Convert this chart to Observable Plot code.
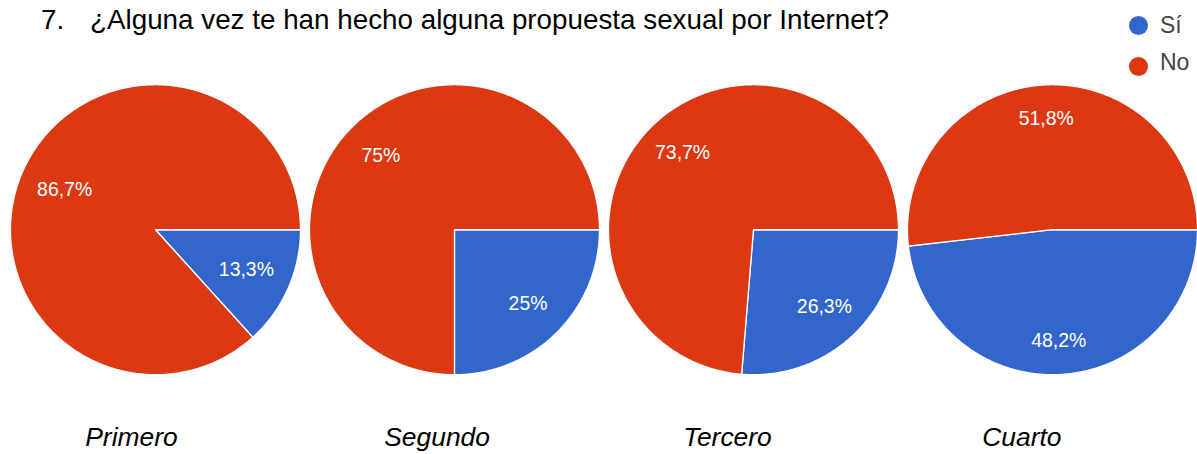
<!DOCTYPE html>
<html>
<head>
<meta charset="utf-8">
<script src="https://cdn.jsdelivr.net/npm/d3@7"></script>
<script src="https://cdn.jsdelivr.net/npm/@observablehq/plot@0.6"></script>
<style>
html, body { margin: 0; padding: 0; background: #fff; overflow: hidden; width: 1197px; height: 454px; }
#wrap { position: relative; width: 1197px; height: 454px; overflow: hidden; font-family: "Liberation Sans", Arial, sans-serif; }
#chart { position: absolute; left: 0; top: 0; }
.t { position: absolute; font-size: 27.8px; line-height: 34px; color: #000; white-space: pre; top: 3px; }
.lg-dot { position: absolute; width: 19px; height: 19px; border-radius: 50%; }
.lg-txt { position: absolute; font-size: 23px; line-height: 26px; color: #444; white-space: pre; }
</style>
</head>
<body>
<div id="wrap">
  <div id="chart"></div>
  <span class="t" style="left:41px">7.</span>
  <span class="t" id="question" style="left:90px"></span>
  <div id="legend"></div>
</div>
<script>
// ---- data ----
const question = "¿Alguna vez te han hecho alguna propuesta sexual por Internet?";
const grades = ["Primero", "Segundo", "Tercero", "Cuarto"];
const answers = ["Sí", "No"];
const siPct = [13.3, 25, 26.3, 48.2];
const noPct = [86.7, 75, 73.7, 51.8];
const colors = ["#3366cc", "#dc3912"];

document.getElementById("question").textContent = question;

// legend
const legend = document.getElementById("legend");
answers.forEach((a, i) => {
  const dot = document.createElement("div");
  dot.className = "lg-dot";
  dot.style.left = "1129px";
  dot.style.top = (16 + i * 41) + "px";
  dot.style.background = colors[i];
  legend.appendChild(dot);
  const t = document.createElement("div");
  t.className = "lg-txt";
  t.style.left = "1160px";
  t.style.top = (12 + i * 37) + "px";
  t.textContent = a;
  legend.appendChild(t);
});

// build slices (angles clockwise from east)
const points = [];
const labels = [];
const fmt = v => String(v).replace(".", ",") + "%";
grades.forEach((g, gi) => {
  const vals = [siPct[gi], noPct[gi]];
  const total = d3.sum(vals);
  let a0 = 0;
  vals.forEach((v, ai) => {
    const a1 = a0 + (v / total) * 2 * Math.PI;
    const id = g + "-" + answers[ai];
    points.push({grade: g, answer: answers[ai], id, x: 0, y: 0});
    const n = Math.max(2, Math.ceil((a1 - a0) / (Math.PI / 360)));
    for (let k = 0; k <= n; ++k) {
      const a = a0 + (a1 - a0) * k / n;
      points.push({grade: g, answer: answers[ai], id, x: Math.cos(a), y: -Math.sin(a)});
    }
    points.push({grade: g, answer: answers[ai], id, x: 0, y: 0});
    const mid = (a0 + a1) / 2;
    const f = 0.67 + 0.095 * Math.sin(mid) ** 2;
    labels.push({grade: g, answer: answers[ai], x: f * Math.cos(mid), y: -f * Math.sin(mid), text: fmt(v)});
    a0 = a1;
  });
});

const chart = Plot.plot({
  width: 1201,
  height: 454,
  marginLeft: 10,
  marginRight: 0,
  marginTop: 84.5,
  marginBottom: 78.5,
  style: {fontFamily: "'Liberation Sans', Arial, sans-serif", background: "transparent", overflow: "visible"},
  fx: {domain: grades, paddingInner: 0.03, paddingOuter: 0, round: false, axis: null, label: null},
  x: {domain: [-1, 1], axis: null},
  y: {domain: [-1, 1], axis: null},
  color: {domain: answers, range: colors},
  marks: [
    Plot.line(points, {
      fx: "grade", x: "x", y: "y", z: "id",
      fill: "answer", stroke: "white", strokeWidth: 1.3, strokeLinejoin: "round"
    }),
    Plot.text(labels, {
      fx: "grade", x: "x", y: "y", text: "text",
      fill: "white", fontSize: 19.5
    }),
    Plot.text(grades, {
      fx: d => d, text: d => d,
      frameAnchor: "bottom-left", textAnchor: "start", lineAnchor: "middle",
      dx: 75, dy: 62.7, fontSize: 26.5, fontStyle: "italic", fill: "black"
    })
  ]
});
document.getElementById("chart").appendChild(chart);
</script>
</body>
</html>
